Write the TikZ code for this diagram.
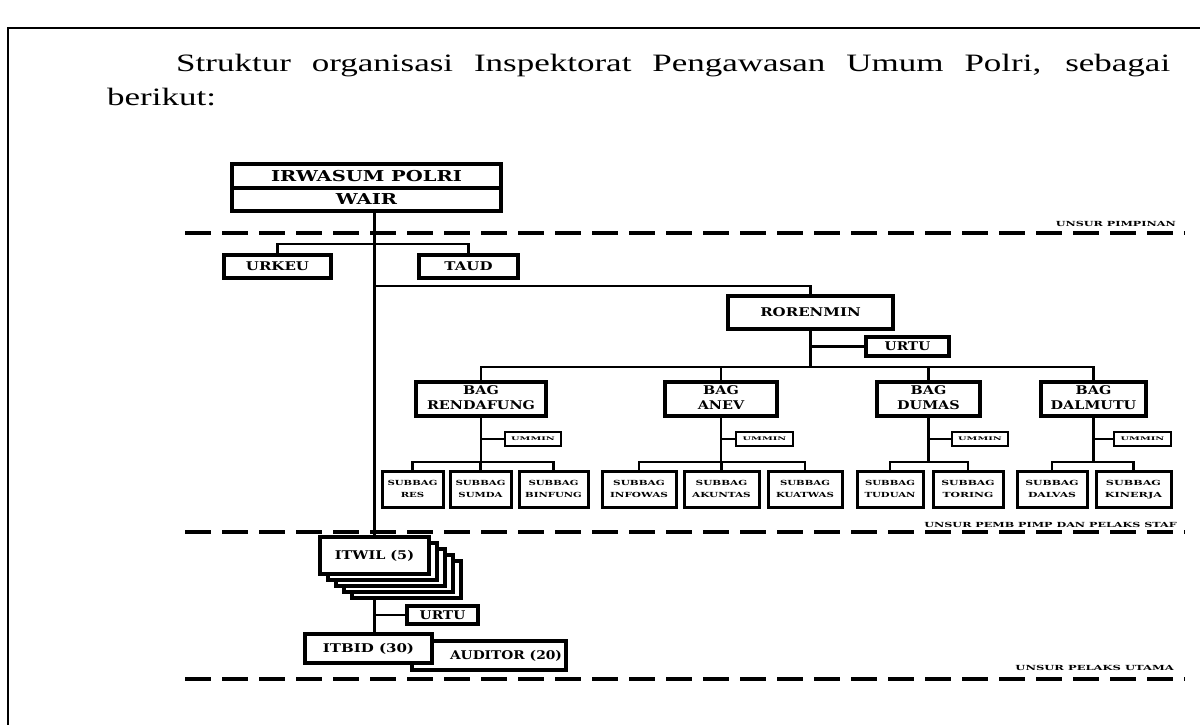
\documentclass[tikz,border=0pt]{standalone}
\usepackage{fontspec}
\usepackage{graphicx}
\setmainfont{Liberation Serif}
\newfontfamily\bxfont{DejaVu Serif}
\usetikzlibrary{backgrounds}
\newcommand\fbig{\bxfont\bfseries\fontsize{15}{17}\selectfont}
\newcommand\fmid{\bxfont\bfseries\fontsize{12}{15}\selectfont}
\newcommand\fsm{\bxfont\bfseries\fontsize{7}{12}\selectfont}
\newcommand\ftiny{\bxfont\bfseries\fontsize{5}{6}\selectfont}
\newcommand\flbl{\bxfont\bfseries\fontsize{7}{8}\selectfont}
\newcommand\sx[2]{\scalebox{#1}[1]{#2}}
\newcommand\two[3]{\scalebox{#1}[1]{\begin{tabular}{@{}c@{}}#2\\#3\end{tabular}}}
\begin{document}
\begin{tikzpicture}[x=1pt,y=-1pt,
  box/.style={draw, line width=3.3pt, fill=white, inner sep=0pt},
  tbox/.style={draw, line width=2.6pt, fill=white, inner sep=0pt, minimum height=14},
  sbox/.style={draw, line width=3pt, fill=white, inner sep=0pt, minimum height=36},
  con/.style={line width=2.8pt},
  sep/.style={line width=3.3pt, dash pattern=on 26pt off 11pt},
  lbl/.style={inner sep=0pt, font=\flbl}]
\useasboundingbox (0,0) rectangle (1200,725);
% frame
\coordinate (f1) at (8,725);
\coordinate (f2) at (8,28);
\coordinate (f3) at (1200,28);
\draw[line width=2pt] (f1) -- (f2) -- (f3);
% title
\node[anchor=base west, inner sep=0pt] (t1) at (176,71)
  {\fontsize{25}{29}\selectfont\scalebox{1.4}[1]{\makebox[710pt][s]{Struktur organisasi Inspektorat Pengawasan Umum Polri, sebagai}}};
\node[anchor=base west, inner sep=0pt] (t2) at (107,106)
  {\fontsize{25}{29}\selectfont\scalebox{1.4}[1]{berikut:}};
% dashed separators
\coordinate (d1a) at (185,233); \coordinate (d1b) at (1185,233);
\coordinate (d2a) at (185,532); \coordinate (d2b) at (1185,532);
\coordinate (d3a) at (185,679); \coordinate (d3b) at (1185,679);
\draw[sep] (d1a) -- (d1b);
\draw[sep] (d2a) -- (d2b);
\draw[sep] (d3a) -- (d3b);
\node[lbl, anchor=base east] (l1) at (1176,226) {\sx{1.6}{UNSUR PIMPINAN}};
\node[lbl, anchor=base east] (l2) at (1177,527) {\sx{1.6}{UNSUR PEMB PIMP DAN PELAKS STAF}};
\node[lbl, anchor=base east] (l3) at (1174,670) {\sx{1.65}{UNSUR PELAKS UTAMA}};
% top
\node[box, minimum width=269, minimum height=24] (irw) at (366.5,176) {\fbig\sx{1.3}{IRWASUM POLRI}};
\node[box, minimum width=269, minimum height=23] (wair) at (366.5,199.5) {\fbig\sx{1.3}{WAIR}};
\node[box, minimum width=107, minimum height=23] (urkeu) at (277.5,266.5) {\fmid\sx{1.25}{URKEU}};
\node[box, minimum width=99, minimum height=23] (taud) at (468.5,266.5) {\fmid\sx{1.25}{TAUD}};
\node[box, minimum width=165, minimum height=33] (roren) at (810.5,312.5) {\fmid\sx{1.25}{RORENMIN}};
\node[box, minimum width=83, minimum height=19] (urtu1) at (907.5,346.5) {\fmid\sx{1.15}{URTU}};
% BAG
\node[box, minimum width=130, minimum height=34] (rend) at (481,399) {\fmid\two{1.2}{BAG}{RENDAFUNG}};
\node[box, minimum width=112, minimum height=34] (anev) at (721,399) {\fmid\two{1.2}{BAG}{ANEV}};
\node[box, minimum width=103, minimum height=34] (dumas) at (928.5,399) {\fmid\two{1.2}{BAG}{DUMAS}};
\node[box, minimum width=105, minimum height=34] (dalm) at (1093.5,399) {\fmid\two{1.2}{BAG}{DALMUTU}};
% UMMIN
\node[tbox, minimum width=56] (um1) at (533,439) {\ftiny\sx{1.95}{UMMIN}};
\node[tbox, minimum width=57] (um2) at (764.5,439) {\ftiny\sx{1.95}{UMMIN}};
\node[tbox, minimum width=56] (um3) at (980,439) {\ftiny\sx{1.95}{UMMIN}};
\node[tbox, minimum width=57] (um4) at (1142.5,439) {\ftiny\sx{1.95}{UMMIN}};
% SUBBAG
\node[sbox, minimum width=61] (res) at (412.5,489) {\fsm\two{1.45}{SUBBAG}{RES}};
\node[sbox, minimum width=61] (sumda) at (480.5,489) {\fsm\two{1.45}{SUBBAG}{SUMDA}};
\node[sbox, minimum width=69] (binf) at (553.5,489) {\fsm\two{1.45}{SUBBAG}{BINFUNG}};
\node[sbox, minimum width=74] (infow) at (639,489) {\fsm\two{1.5}{SUBBAG}{INFOWAS}};
\node[sbox, minimum width=75] (akun) at (721.5,489) {\fsm\two{1.5}{SUBBAG}{AKUNTAS}};
\node[sbox, minimum width=74] (kuat) at (805,489) {\fsm\two{1.45}{SUBBAG}{KUATWAS}};
\node[sbox, minimum width=66] (tudu) at (890,489) {\fsm\two{1.45}{SUBBAG}{TUDUAN}};
\node[sbox, minimum width=70] (tori) at (968,489) {\fsm\two{1.55}{SUBBAG}{TORING}};
\node[sbox, minimum width=70] (dalv) at (1052,489) {\fsm\two{1.55}{SUBBAG}{DALVAS}};
\node[sbox, minimum width=75] (kine) at (1133.5,489) {\fsm\two{1.6}{SUBBAG}{KINERJA}};
% ITWIL stack
\node[box, minimum width=109, minimum height=37] (itw4) at (406.5,579.5) {};
\node[box, minimum width=109, minimum height=37] (itw3) at (398.5,573.5) {};
\node[box, minimum width=109, minimum height=37] (itw2) at (390.5,567.5) {};
\node[box, minimum width=109, minimum height=37] (itw1) at (382.5,561.5) {};
\node[box, minimum width=109, minimum height=37] (itwil) at (374.5,555.5) {\fmid\sx{1.2}{ITWIL (5)}};
\node[box, minimum width=71, minimum height=18] (urtu2) at (442.5,615) {\fmid\sx{1.15}{URTU}};
\node[box, minimum width=154, minimum height=29] (aud) at (489,655.5) {\hspace*{34pt}\fmid\sx{1.15}{AUDITOR (20)}};
\node[box, minimum width=127, minimum height=29] (itbid) at (368.5,648.5) {\fmid\sx{1.25}{ITBID (30)}};
% connectors
\coordinate (y244) at (0,244);
\coordinate (j1) at (374.5,286);
\coordinate (y367) at (0,367);
\coordinate (y462) at (0,462);
\begin{scope}[on background layer]
\draw[con] (wair.south -| itwil.north) -- (itwil.north |- itbid.north);
\draw[con] (urkeu.north) |- (taud.north |- y244) -- (taud.north);
\draw[con] (j1) -| (roren.north);
\draw[con] (roren.south) -- (roren.south |- y367);
\draw[con] (roren.south |- urtu1.west) -- (urtu1.west);
\draw[con] (rend.north) |- (dalm.north |- y367) -- (dalm.north);
\draw[con] (anev.north) -- (anev.north |- y367);
\draw[con] (dumas.north) -- (dumas.north |- y367);
% rendafung
\draw[con] (rend.south) -- (rend.south |- y462);
\draw[con] (rend.south |- um1.west) -- (um1.west);
\draw[con] (res.north) |- (binf.north |- y462) -- (binf.north);
\draw[con] (sumda.north) -- (sumda.north |- y462);
% anev
\draw[con] (anev.south) -- (anev.south |- y462);
\draw[con] (anev.south |- um2.west) -- (um2.west);
\draw[con] (infow.north) |- (kuat.north |- y462) -- (kuat.north);
\draw[con] (akun.north) -- (akun.north |- y462);
% dumas
\draw[con] (dumas.south) -- (dumas.south |- y462);
\draw[con] (dumas.south |- um3.west) -- (um3.west);
\draw[con] (tudu.north) |- (tori.north |- y462) -- (tori.north);
% dalmutu
\draw[con] (dalm.south) -- (dalm.south |- y462);
\draw[con] (dalm.south |- um4.west) -- (um4.west);
\draw[con] (dalv.north) |- (kine.north |- y462) -- (kine.north);
% lower urtu
\draw[con] (itwil.north |- urtu2.west) -- (urtu2.west);
\end{scope}
\end{tikzpicture}
\end{document}
